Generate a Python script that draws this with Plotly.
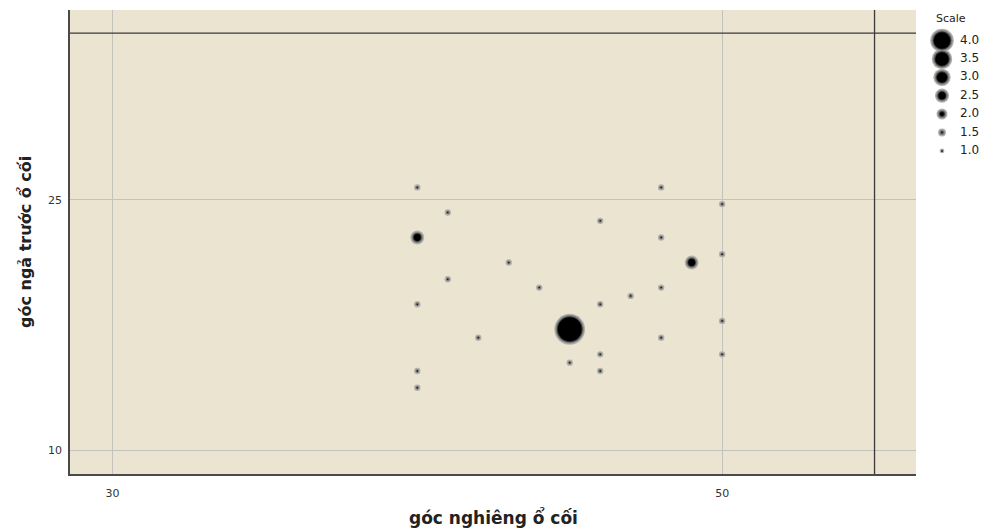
import plotly.graph_objects as go

# Acetabular angles (degrees) and number of cases at each combination
goc_nghieng = [40, 41, 40, 43, 41, 44, 40, 45, 42, 45, 40, 40,
               48, 50, 46, 48, 50, 49, 48, 47, 46, 50, 48, 46, 50, 46]
goc_nga_truoc = [25.75, 24.25, 22.75, 21.25, 20.25, 19.75, 18.75, 17.25, 16.75, 15.25, 14.75, 13.75,
                 25.75, 24.75, 23.75, 22.75, 21.75, 21.25, 19.75, 19.25, 18.75, 17.75, 16.75, 15.75,
                 15.75, 14.75]
so_ca = [1, 1, 2, 1, 1, 1, 1, 4, 1, 1, 1, 1,
         1, 1, 1, 1, 1, 2, 1, 1, 1, 1, 1, 1, 1, 1]

scale_levels = [4.0, 3.5, 3.0, 2.5, 2.0, 1.5, 1.0]
scale_labels = ["4.0", "3.5", "3.0", "2.5", "2.0", "1.5", "1.0"]

x_ticks = [30, 50]
y_ticks = [10, 25]
ref_x = 55
ref_y = 35

BG = "#EAE4D0"


def plot_diam(v):
    return v * v / 3 + 6.5 * v - 0.5


def legend_diam(v):
    return 6.3 * v - 1.6


def halo_layers(sizes):
    """Soft bubble: light rim, grey ring, black core."""
    outer = list(sizes)
    mid = [max(s - 2.5, 2.5) for s in sizes]
    inner = [max(s - 5, 1.8) for s in sizes]
    core = [max(s - 7, 1.0) for s in sizes]
    return [(outer, "#b2b0aa"), (mid, "#808080"), (inner, "#3c3c3c"), (core, "#000000")]


fig = go.Figure()

# Main bubbles
sizes = [plot_diam(v) for v in so_ca]
for sz, col in halo_layers(sizes):
    fig.add_trace(go.Scatter(
        x=goc_nghieng, y=goc_nga_truoc, mode="markers",
        marker=dict(size=sz, color=col, opacity=1, line=dict(width=0)),
        showlegend=False, hoverinfo="skip", xaxis="x", yaxis="y"))

# Size legend ("Scale") drawn on its own small axes
leg_idx = list(range(len(scale_levels)))
leg_sizes = [legend_diam(v) for v in scale_levels]
for sz, col in halo_layers(leg_sizes):
    fig.add_trace(go.Scatter(
        x=[17] * len(leg_idx), y=leg_idx, mode="markers",
        marker=dict(size=sz, color=col, opacity=1, line=dict(width=0)),
        showlegend=False, hoverinfo="skip", xaxis="x2", yaxis="y2"))
fig.add_trace(go.Scatter(
    x=[35] * len(leg_idx), y=leg_idx, mode="text", text=scale_labels,
    textposition="middle right",
    textfont=dict(family="DejaVu Sans", size=12, color="#222222"),
    showlegend=False, hoverinfo="skip", xaxis="x2", yaxis="y2"))

main_right = 846 / 919

fig.update_layout(
    width=989, height=528,
    margin=dict(l=70, r=0, t=10, b=54),
    paper_bgcolor="white", plot_bgcolor="white",
    showlegend=False,
    xaxis=dict(
        domain=[0, main_right], range=[28.607, 56.36],
        tickvals=x_ticks, ticktext=[str(t) for t in x_ticks],
        showgrid=True, gridcolor="#c4c2bc", gridwidth=1,
        zeroline=False, showline=True, linecolor="#4a4a4a", linewidth=1.5,
        ticks="outside", ticklen=8, tickcolor="rgba(0,0,0,0)",
        tickfont=dict(family="DejaVu Sans", size=11, color="#333333"),
    ),
    yaxis=dict(
        domain=[0, 1], range=[8.58, 36.38],
        tickvals=y_ticks, ticktext=[str(t) for t in y_ticks],
        showgrid=True, gridcolor="#c4c2bc", gridwidth=1,
        zeroline=False, showline=True, linecolor="#4a4a4a", linewidth=1.5,
        ticks="outside", ticklen=4, tickcolor="rgba(0,0,0,0)",
        tickfont=dict(family="DejaVu Sans", size=11, color="#333333"),
    ),
    xaxis2=dict(domain=[(925 - 70) / 919, 1], range=[0, 64], anchor="y2",
                visible=False, fixedrange=True),
    yaxis2=dict(domain=[(474 - 170) / 464, 1], range=[7.038, -1.658], anchor="x2",
                visible=False, fixedrange=True),
    shapes=[
        dict(type="rect", xref="x domain", yref="y domain", x0=0, x1=1, y0=0, y1=1,
             fillcolor=BG, line=dict(width=0), layer="below"),
        dict(type="line", xref="x", yref="y domain", x0=ref_x, x1=ref_x, y0=0, y1=1,
             line=dict(color="#3a3a3a", width=1.3)),
        dict(type="line", xref="x domain", yref="y", x0=0, x1=1, y0=ref_y, y1=ref_y,
             line=dict(color="#3a3a3a", width=1.3)),
    ],
    annotations=[
        dict(text="Scale", xref="x2", yref="y2", x=26, y=-1.2, showarrow=False,
             font=dict(family="DejaVu Sans", size=11, color="#222222")),
        dict(text="<b>góc nghiêng ổ cối</b>", xref="paper", yref="paper",
             x=main_right / 2, y=0, yshift=-43, xanchor="center", yanchor="middle",
             showarrow=False,
             font=dict(family="DejaVu Sans", size=17, color="#222222")),
        dict(text="<b>góc ngả trước ổ cối</b>", xref="paper", yref="paper",
             x=0, xshift=-45, y=0.5, textangle=-90, xanchor="center", yanchor="middle",
             showarrow=False,
             font=dict(family="DejaVu Sans", size=16, color="#222222")),
    ],
)

fig.write_html("out.html")
